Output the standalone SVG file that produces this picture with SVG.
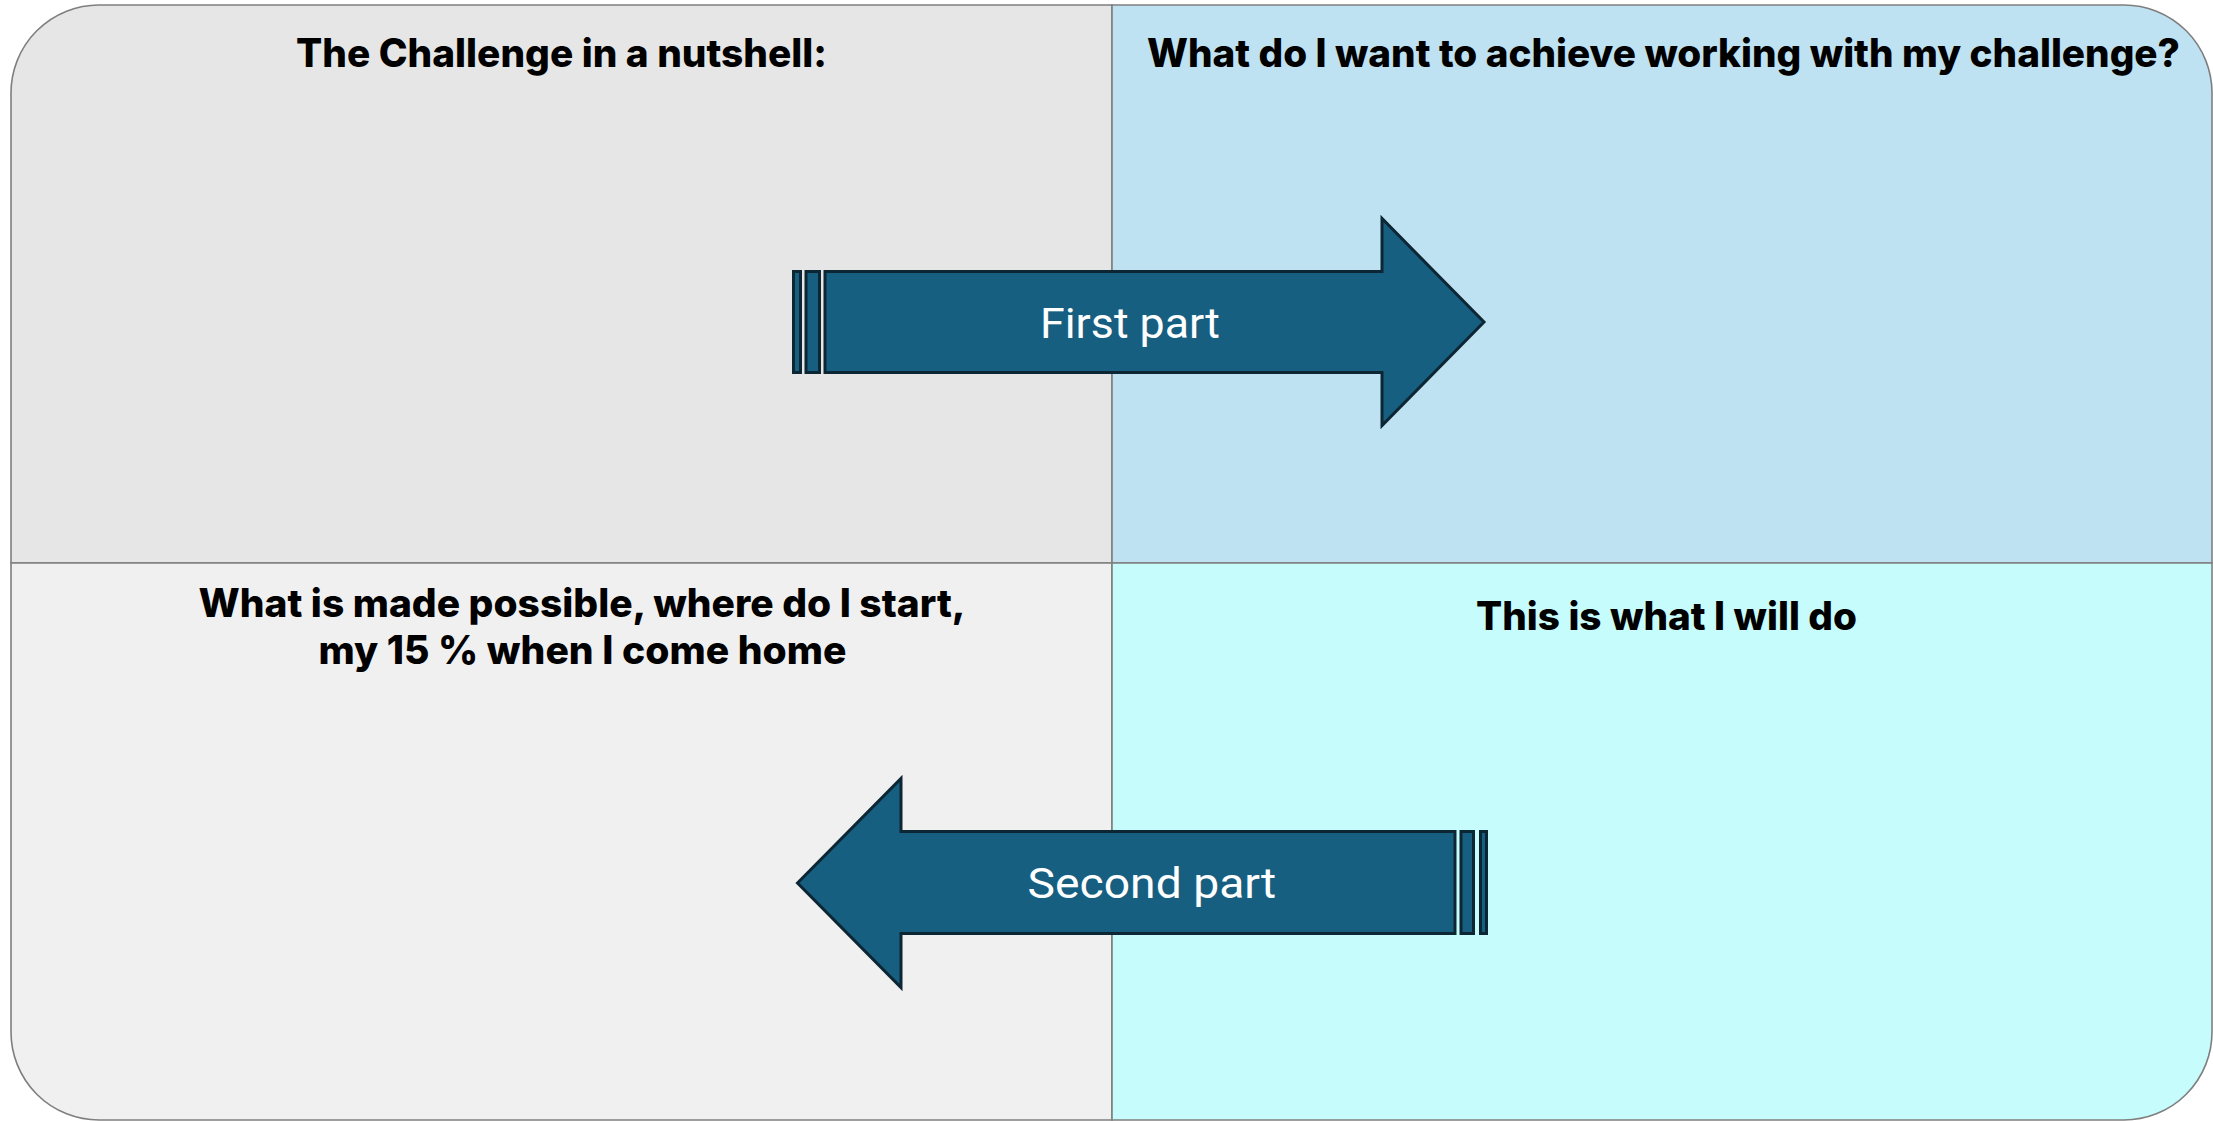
<svg xmlns="http://www.w3.org/2000/svg" width="2213" height="1121" viewBox="0 0 2213 1121">
  <style>
    .quad { stroke: #7f7f7f; stroke-width: 1.6; }
    .head { font-family: Inter, "Liberation Sans", sans-serif; font-weight: 800; font-size: 39px; fill: #000000; }
    .arrow { fill: #175f81; stroke: #0c2634; stroke-width: 3; stroke-linejoin: miter; }
    .alabel { font-family: Roboto, "Liberation Sans", sans-serif; font-weight: 400; font-size: 42px; fill: #ffffff; }
  </style>
  <rect width="2213" height="1121" fill="#ffffff"/>
  <g id="q-challenge">
    <path class="quad" fill="#e6e6e6" d="M11,563 V93 A88,88 0 0 1 99,5 H1112 V563 Z"/>
    <text class="head" x="296" y="66.7" textLength="531" lengthAdjust="spacingAndGlyphs">The Challenge in a nutshell:</text>
  </g>
  <g id="q-achieve">
    <path class="quad" fill="#bee2f2" d="M1112,5 H2124 A88,88 0 0 1 2212,93 V563 H1112 Z"/>
    <text class="head" x="1147" y="66.7" textLength="1033" lengthAdjust="spacingAndGlyphs">What do I want to achieve working with my challenge?</text>
  </g>
  <g id="q-possible">
    <path class="quad" fill="#f0f0f0" d="M11,563 V1032 A88,88 0 0 0 99,1120 H1112 V563 Z"/>
    <text class="head" x="198.5" y="616.7" textLength="767" lengthAdjust="spacingAndGlyphs">What is made possible, where do I start,</text>
    <text class="head" x="318.5" y="664.3" textLength="528" lengthAdjust="spacingAndGlyphs">my 15 % when I come home</text>
  </g>
  <g id="q-will-do">
    <path class="quad" fill="#c7fcfd" d="M1112,563 H2212 V1032 A88,88 0 0 1 2124,1120 H1112 Z"/>
    <text class="head" x="1476" y="630" textLength="381" lengthAdjust="spacingAndGlyphs">This is what I will do</text>
  </g>
  <g id="connectors">
    <g id="arrow-first-part">
      <rect class="arrow" x="793.5" y="271.5" width="7" height="101"/>
      <rect class="arrow" x="806" y="271.5" width="13.5" height="101"/>
      <path class="arrow" d="M825,271.5 H1382 V218.5 L1484,322 L1382,425.5 V372.5 H825 Z"/>
      <text class="alabel" x="1040" y="337.7" textLength="180" lengthAdjust="spacingAndGlyphs">First part</text>
    </g>
    <g id="arrow-second-part">
      <path class="arrow" d="M797.5,883 L901,778.5 V831.5 H1455 V933.5 H901 V987.5 Z"/>
      <rect class="arrow" x="1461" y="831.5" width="12.5" height="102"/>
      <rect class="arrow" x="1480.5" y="831.5" width="6" height="102"/>
      <text class="alabel" x="1027.6" y="898.3" textLength="248.6" lengthAdjust="spacingAndGlyphs">Second part</text>
    </g>
  </g>
</svg>
